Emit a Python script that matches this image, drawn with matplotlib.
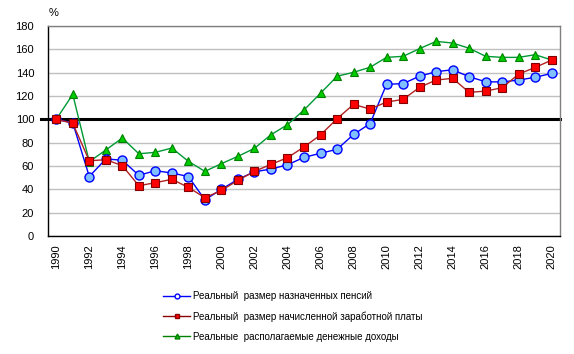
import matplotlib
matplotlib.use('Agg')
import matplotlib.pyplot as plt

plt.rcParams['font.family'] = ['Liberation Sans', 'DejaVu Sans']

years = list(range(1990, 2021))

pensions = [100, 97, 51, 66, 65, 52, 56, 54, 51, 31, 40, 48.6, 55, 57.4, 61, 67.4, 70.9,
            74.3, 87, 96.3, 130, 130.6, 137, 140.8, 142.5, 136.5, 132.2, 132, 133.7, 136, 139.4]
wages = [100, 96.6, 64.5, 65.4, 60.3, 43.1, 45.7, 48.6, 41.7, 32.8, 39.1, 47.7, 55.4, 61.4, 67.1,
         76.3, 86.6, 100.5, 112.8, 108.8, 114.8, 117.1, 127.4, 133.7, 135.1, 123.1, 124.2,
         127.1, 138.8, 144.5, 150.8]
incomes = [100, 121.4, 63.7, 73.7, 84, 70.5, 71.7, 75.4, 64, 55.4, 62, 68.3, 75.1, 86.8, 95.4,
           108, 122.3, 136.9, 140.3, 144.6, 153.1, 154, 160.6, 166.8, 165.4, 160.9, 154, 153.1,
           153.1, 155.4, 150.8]

labels = ['Реальный  размер назначенных пенсий',
          'Реальный  размер начисленной заработной платы',
          'Реальные  располагаемые денежные доходы']

fig = plt.figure(figsize=(5.74, 3.54), dpi=100)
ax = fig.add_axes([0.0836, 0.3333, 0.892, 0.5933])

ax.plot(years, pensions, color='#0000ff', lw=1, marker='o', ms=6.5,
        mfc='#80c0ff', mec='#0000ff', mew=1, zorder=4)
ax.plot(years, wages, color='#b22222', lw=1, marker='s', ms=5.5,
        mfc='#ff0000', mec='#800000', mew=0.8, zorder=5)
ax.plot(years, incomes, color='#009933', lw=1, marker='^', ms=5.5,
        mfc='#00cc00', mec='#008000', mew=0.8, zorder=3)

ax.axhline(100, xmin=-0.014, xmax=1, color='black', lw=2.2, clip_on=False, zorder=2)

ax.set_xlim(1989.5, 2020.5)
ax.set_ylim(0, 180)
ax.set_yticks(range(0, 181, 20))
ax.set_xticks(range(1990, 2021, 2))
ax.set_xticklabels([str(y) for y in range(1990, 2021, 2)], rotation=90)
ax.tick_params(length=0, labelsize=8, colors='black')
ax.tick_params(axis='y', pad=10)
ax.tick_params(axis='x', pad=6)
ax.yaxis.grid(True, color='#c0c0c0', lw=1)
ax.set_axisbelow(True)

ax.spines['left'].set_color('black')
ax.spines['bottom'].set_color('black')
ax.spines['top'].set_color('#808080')
ax.spines['right'].set_color('#808080')
for s in ax.spines.values():
    s.set_linewidth(1)

fig.text(0.085, 0.962, '%', fontsize=8, ha='left', va='center')

handles = []
for col, mk, fc in [('#0000ff', 'o', '#ffffff'), ('#8b0000', 's', '#ff0000'), ('#008000', '^', '#00cc00')]:
    h, = ax.plot([], [], color=col, lw=1, marker=mk, ms=3.5, mfc=fc, mec=col)
    handles.append(h)
fig.legend(handles, labels, loc='upper left', bbox_to_anchor=(0.284, 0.178), frameon=False,
           fontsize=7, handlelength=2.8, handletextpad=0.25, labelspacing=1.05,
           borderaxespad=0, borderpad=0)

fig.savefig('out.png', dpi=100)
